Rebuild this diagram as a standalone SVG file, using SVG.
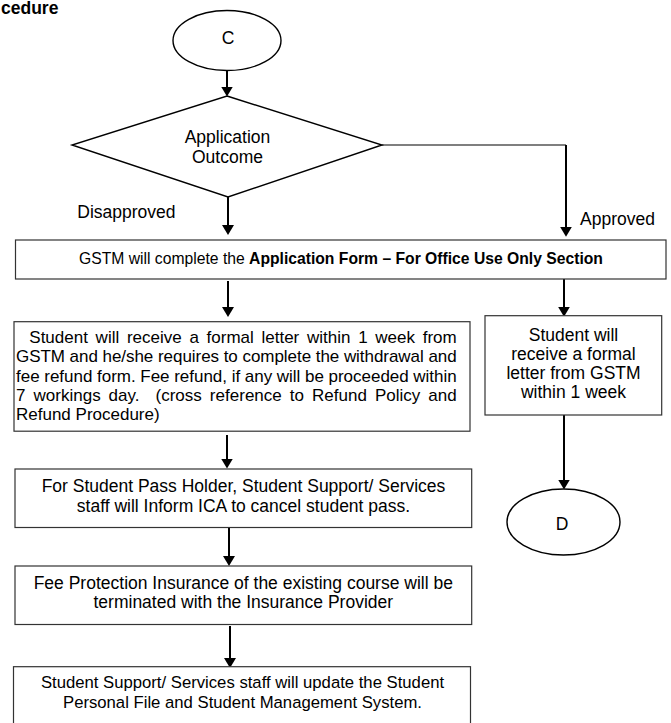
<svg xmlns="http://www.w3.org/2000/svg" width="671" height="723" viewBox="0 0 671 723">
<style>
  text { font-family: "Liberation Sans", Arial, sans-serif; fill: #000; }
  .t { font-size: 17.5px; }
  .c { text-anchor: middle; }
  .box { fill: #fff; stroke: #333; stroke-width: 1.2; }
  .shape { fill: #fff; stroke: #000; stroke-width: 1.4; }
  .arrow { fill: none; stroke: #000; stroke-width: 2; marker-end: url(#ah); }
  .thin { fill: none; stroke: #000; stroke-width: 1.2; }
</style>
<defs>
  <marker id="ah" viewBox="0 0 10 12" refX="8" refY="6" markerWidth="10" markerHeight="12" markerUnits="userSpaceOnUse" orient="auto">
    <path d="M0,0 L10,6 L0,12 z" fill="#000"/>
  </marker>
</defs>
<rect width="671" height="723" fill="#fff"/>

<text x="1" y="14" font-size="17.5" font-weight="bold">cedure</text>

<g id="connectors">
  <path class="arrow" d="M227,71 V94.5"/>
  <path class="arrow" d="M228,197 V233"/>
  <path class="thin" d="M382,145 H566"/>
  <path class="arrow" d="M566,145 V234.7"/>
  <path class="arrow" d="M228,281 V315"/>
  <path class="arrow" d="M564,279 V314.7"/>
  <path class="arrow" d="M227,435 V466.5"/>
  <path class="arrow" d="M564,415 V487.5"/>
  <path class="arrow" d="M229,528 V564"/>
  <path class="arrow" d="M230,626 V666"/>
</g>

<g id="startC">
  <ellipse class="shape" cx="227" cy="40.5" rx="54" ry="30"/>
  <text class="t c" x="228" y="43.5">C</text>
</g>

<g id="decision">
  <polygon class="shape" points="227,96 382,145 228,197 72,145"/>
  <text class="t c" x="227.5" y="143">Application</text>
  <text class="t c" x="227.5" y="163">Outcome</text>
</g>

<g id="labels">
  <text class="t" x="77.3" y="218.3">Disapproved</text>
  <text class="t" x="580" y="225">Approved</text>
</g>

<g id="gstm">
  <rect class="box" x="15.5" y="240" width="650.5" height="39"/>
  <text class="c" x="341" y="264" font-size="15.7">GSTM will complete the <tspan font-weight="bold">Application Form – For Office Use Only Section</tspan></text>
</g>

<g id="letterDisapproved">
  <rect class="box" x="14" y="321.7" width="456" height="109.5"/>
  <text x="29.3" y="343" font-size="17" word-spacing="2.98" textLength="427.4" lengthAdjust="spacing">Student will receive a formal letter within 1 week from</text>
  <text x="16" y="362.3" font-size="17" textLength="440.7" lengthAdjust="spacing">GSTM and he/she requires to complete the withdrawal and</text>
  <text x="16" y="381.6" font-size="17" textLength="440.7" lengthAdjust="spacing">fee refund form. Fee refund, if any will be proceeded within</text>
  <text x="16" y="400.9" font-size="17" word-spacing="3.2" textLength="440.7" lengthAdjust="spacing" xml:space="preserve">7 workings day.  (cross reference to Refund Policy and</text>
  <text x="16" y="420.2" font-size="17">Refund Procedure)</text>
</g>

<g id="letterApproved">
  <rect class="box" x="485" y="315.7" width="176.7" height="99.3"/>
  <text class="t c" x="573.5" y="340.5">Student will</text>
  <text class="t c" x="573.5" y="359.8">receive a formal</text>
  <text class="t c" x="573.5" y="379.1">letter from GSTM</text>
  <text class="t c" x="573.5" y="398.4">within 1 week</text>
</g>

<g id="endD">
  <ellipse class="shape" cx="563.5" cy="522" rx="56.5" ry="33"/>
  <text class="t c" x="562" y="530">D</text>
</g>

<g id="studentPass">
  <rect class="box" x="15" y="469" width="456.7" height="58.5"/>
  <text class="t c" x="243.5" y="492">For Student Pass Holder, Student Support/ Services</text>
  <text class="t c" x="243.5" y="511.5">staff will Inform ICA to cancel student pass.</text>
</g>

<g id="insurance">
  <rect class="box" x="15" y="566" width="456.7" height="58.5"/>
  <text class="t c" x="243.3" y="588.5">Fee Protection Insurance of the existing course will be</text>
  <text class="t c" x="243.3" y="608">terminated with the Insurance Provider</text>
</g>

<g id="update">
  <rect class="box" x="13.5" y="666.7" width="457" height="70"/>
  <text class="c" x="242.5" y="688" font-size="16.7">Student Support/ Services staff will update the Student</text>
  <text class="c" x="242.5" y="707.5" font-size="16.7">Personal File and Student Management System.</text>
</g>
</svg>
